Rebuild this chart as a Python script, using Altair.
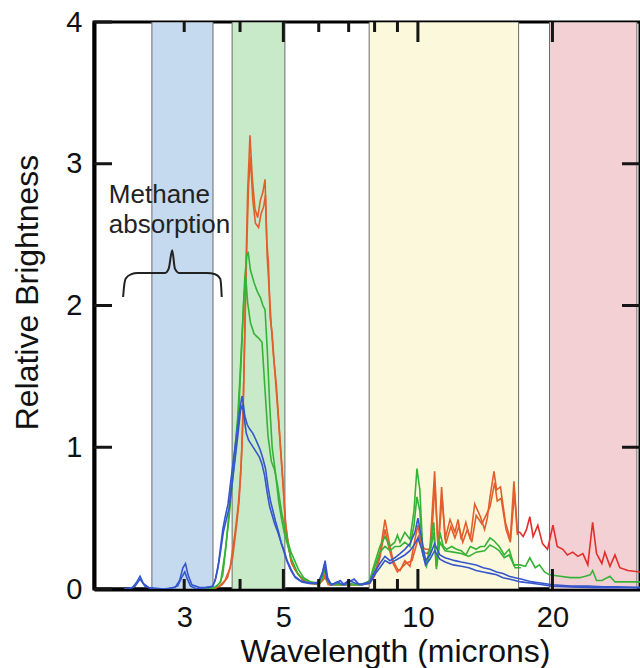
import altair as alt
import pandas as pd

FONT = "Liberation Sans"
PLOT_W = 546
PLOT_H = 567

# ---------------- axes ----------------
x_domain = [1.885, 31.4]
y_domain = [0, 4]
x_tick_labels = [3, 5, 10, 20]
y_tick_labels = [0, 1, 2, 3, 4]
x_minor_ticks = [3, 4, 6, 7, 8, 9]
x_major_ticks = [5, 10, 20]
y_left_ticks = [0, 1, 2, 3, 4]
y_right_ticks = [1, 2, 3]

# ---------------- shaded bands ----------------
band_names = ["b1", "b2", "b3", "b4"]
band_start = [2.54, 3.84, 7.78, 19.7]
band_end = [3.48, 5.04, 16.8, 30.9]
band_colors = ["#c5d9ef", "#c9eac9", "#fbf8dc", "#f3d0d3"]

# ---------------- spectra ----------------
blue_a_wl = [2.20, 2.30, 2.35, 2.39, 2.43, 2.50, 2.70, 2.86, 2.93, 2.98,
             3.02, 3.06, 3.12, 3.25, 3.40, 3.48, 3.53, 3.58, 3.62, 3.66,
             3.70, 3.76, 3.82, 3.88, 3.94, 4.00, 4.04, 4.07, 4.10, 4.15,
             4.20, 4.27, 4.33, 4.40, 4.45, 4.50, 4.56, 4.62, 4.68, 4.74,
             4.80, 4.88, 4.95, 5.02, 5.10, 5.20, 5.30, 5.45, 5.60, 5.80,
             6.00, 6.12, 6.20, 6.28, 6.40, 6.55, 6.70, 6.85, 7.00, 7.20,
             7.40, 7.60, 7.80, 8.00, 8.22, 8.44, 8.66, 8.88, 9.12, 9.35,
             9.60, 9.85, 10.00, 10.20, 10.40, 10.64, 10.90, 11.20, 11.50, 11.80,
             12.10, 12.50, 13.00, 13.50, 14.00, 14.50, 15.00, 15.50, 16.00, 16.50,
             17.00, 18.00, 19.00, 20.00, 22.00, 24.00, 26.00, 28.00, 31.40]
blue_a_val = [0.00, 0.01, 0.05, 0.09, 0.04, 0.01, 0.00, 0.01, 0.06, 0.15,
              0.18, 0.10, 0.03, 0.01, 0.01, 0.02, 0.08, 0.18, 0.30, 0.42,
              0.50, 0.60, 0.78, 0.95, 1.12, 1.28, 1.36, 1.30, 1.22, 1.16,
              1.13, 1.10, 1.06, 1.01, 0.97, 0.92, 0.85, 0.72, 0.62, 0.55,
              0.48, 0.40, 0.32, 0.27, 0.20, 0.14, 0.09, 0.06, 0.05, 0.04,
              0.05, 0.12, 0.20, 0.08, 0.03, 0.04, 0.06, 0.03, 0.05, 0.07,
              0.03, 0.04, 0.05, 0.12, 0.18, 0.23, 0.20, 0.22, 0.25, 0.28,
              0.32, 0.40, 0.50, 0.35, 0.20, 0.24, 0.32, 0.24, 0.22, 0.21,
              0.20, 0.19, 0.18, 0.17, 0.15, 0.14, 0.12, 0.11, 0.09, 0.08,
              0.07, 0.05, 0.04, 0.03, 0.02, 0.02, 0.015, 0.015, 0.01]

blue_b_wl = [2.25, 2.33, 2.39, 2.45, 2.55, 2.75, 2.90, 2.96, 3.01, 3.05,
             3.10, 3.20, 3.35, 3.47, 3.52, 3.57, 3.62, 3.67, 3.72, 3.78,
             3.84, 3.90, 3.96, 4.01, 4.05, 4.09, 4.13, 4.18, 4.24, 4.30,
             4.36, 4.42, 4.48, 4.54, 4.60, 4.66, 4.72, 4.78, 4.86, 4.94,
             5.02, 5.10, 5.20, 5.32, 5.50, 5.70, 5.95, 6.10, 6.18, 6.26,
             6.40, 6.60, 6.80, 7.00, 7.25, 7.50, 7.80, 8.00, 8.22, 8.44,
             8.66, 8.88, 9.12, 9.35, 9.60, 9.85, 10.00, 10.20, 10.40, 10.64,
             10.90, 11.20, 11.50, 12.00, 12.50, 13.00, 13.50, 14.00, 14.50, 15.00,
             15.50, 16.00, 16.50, 17.00, 18.00, 19.00, 20.00, 22.00, 25.00, 28.00,
             31.40]
blue_b_val = [0.00, 0.02, 0.07, 0.02, 0.00, 0.00, 0.02, 0.08, 0.12, 0.07,
              0.02, 0.00, 0.01, 0.02, 0.06, 0.15, 0.27, 0.40, 0.48, 0.57,
              0.74, 0.92, 1.10, 1.26, 1.30, 1.20, 1.10, 1.05, 1.02, 0.99,
              0.96, 0.93, 0.88, 0.80, 0.68, 0.58, 0.52, 0.46, 0.40, 0.33,
              0.26, 0.19, 0.13, 0.08, 0.05, 0.04, 0.04, 0.10, 0.17, 0.07,
              0.03, 0.05, 0.03, 0.06, 0.04, 0.03, 0.04, 0.10, 0.15, 0.20,
              0.18, 0.20, 0.22, 0.24, 0.27, 0.32, 0.36, 0.28, 0.17, 0.21,
              0.27, 0.21, 0.19, 0.17, 0.16, 0.15, 0.13, 0.12, 0.11, 0.10,
              0.08, 0.07, 0.06, 0.05, 0.04, 0.03, 0.02, 0.015, 0.01, 0.01,
              0.01]

green_a_wl = [3.30, 3.50, 3.60, 3.66, 3.72, 3.78, 3.84, 3.90, 3.95, 4.00,
              4.05, 4.10, 4.14, 4.17, 4.22, 4.30, 4.37, 4.45, 4.50, 4.55,
              4.60, 4.66, 4.72, 4.80, 4.88, 4.95, 5.02, 5.10, 5.20, 5.30,
              5.40, 5.55, 5.75, 6.00, 6.12, 6.20, 6.28, 6.40, 6.60, 6.80,
              7.00, 7.30, 7.60, 7.80, 8.00, 8.22, 8.44, 8.66, 8.88, 9.00,
              9.12, 9.35, 9.60, 9.80, 9.95, 10.10, 10.25, 10.45, 10.65, 10.85,
              11.00, 11.20, 11.40, 11.60, 11.90, 12.20, 12.50, 12.80, 13.10, 13.50,
              13.80, 14.10, 14.50, 14.80, 15.20, 15.60, 16.00, 16.40, 16.90, 17.40,
              17.80, 18.30, 18.70, 19.20, 19.70, 20.80, 21.90, 23.00, 23.70, 24.30,
              24.60, 25.10, 25.80, 26.90, 27.60, 28.30, 31.40]
green_a_val = [0.00, 0.01, 0.04, 0.10, 0.30, 0.55, 0.80, 1.00, 1.20, 1.50,
               1.85, 2.20, 2.35, 2.38, 2.25, 2.16, 2.10, 2.05, 2.00, 1.97,
               1.70, 1.30, 1.00, 0.82, 0.62, 0.50, 0.40, 0.32, 0.22, 0.16,
               0.10, 0.07, 0.05, 0.04, 0.10, 0.16, 0.06, 0.03, 0.04, 0.03,
               0.04, 0.03, 0.04, 0.06, 0.18, 0.30, 0.37, 0.30, 0.33, 0.38,
               0.33, 0.40, 0.35, 0.55, 0.85, 0.70, 0.28, 0.18, 0.30, 0.47,
               0.16, 0.40, 0.30, 0.28, 0.30, 0.28, 0.27, 0.24, 0.30, 0.28,
               0.30, 0.30, 0.36, 0.34, 0.30, 0.24, 0.28, 0.17, 0.17, 0.16,
               0.22, 0.15, 0.17, 0.12, 0.10, 0.09, 0.08, 0.08, 0.09, 0.10,
               0.13, 0.06, 0.06, 0.09, 0.05, 0.05, 0.05]

green_b_wl = [3.35, 3.52, 3.62, 3.70, 3.78, 3.85, 3.92, 3.98, 4.04, 4.08,
              4.12, 4.16, 4.22, 4.30, 4.40, 4.48, 4.55, 4.62, 4.70, 4.78,
              4.86, 4.95, 5.02, 5.10, 5.20, 5.30, 5.40, 5.55, 5.75, 6.00,
              6.12, 6.20, 6.28, 6.50, 7.00, 7.50, 7.80, 8.00, 8.22, 8.44,
              8.66, 8.88, 9.12, 9.35, 9.60, 9.80, 9.95, 10.10, 10.25, 10.45,
              10.65, 10.85, 11.00, 11.20, 11.50, 12.00, 12.50, 13.00, 13.50, 14.10,
              14.50, 14.90, 15.20, 15.60, 16.00, 16.50, 17.00]
green_b_val = [0.00, 0.01, 0.05, 0.25, 0.50, 0.78, 1.00, 1.30, 1.75, 2.05,
               2.20, 2.02, 1.88, 1.80, 1.77, 1.74, 1.40, 1.08, 0.90, 0.84,
               0.72, 0.55, 0.45, 0.35, 0.26, 0.20, 0.14, 0.08, 0.05, 0.03,
               0.08, 0.14, 0.05, 0.03, 0.03, 0.03, 0.05, 0.15, 0.26, 0.30,
               0.27, 0.30, 0.30, 0.33, 0.30, 0.45, 0.65, 0.55, 0.25, 0.16,
               0.26, 0.40, 0.14, 0.33, 0.27, 0.26, 0.25, 0.23, 0.26, 0.27,
               0.31, 0.29, 0.27, 0.22, 0.24, 0.15, 0.15]

orange_a_wl = [3.45, 3.60, 3.70, 3.80, 3.90, 3.96, 4.00, 4.04, 4.08, 4.12,
               4.16, 4.21, 4.26, 4.32, 4.38, 4.44, 4.50, 4.55, 4.59, 4.63,
               4.67, 4.72, 4.78, 4.84, 4.90, 4.96, 5.00, 5.04, 5.12, 5.20,
               5.30, 5.45, 5.60, 5.80, 6.00, 6.18, 6.30, 6.60, 7.00, 7.50,
               7.80, 8.00, 8.22, 8.44, 8.60, 8.80, 9.00, 9.12, 9.35, 9.60,
               9.85, 10.00, 10.20, 10.40, 10.64, 10.90, 11.10, 11.30, 11.50, 11.80,
               12.10, 12.30, 12.50, 12.80, 13.10, 13.40, 13.80, 14.10, 14.30, 14.50,
               14.80, 15.00, 15.30, 15.70, 16.10, 16.40, 16.70]
orange_a_val = [0.00, 0.02, 0.06, 0.15, 0.40, 0.58, 0.75, 1.00, 1.50, 2.20,
                2.80, 3.20, 2.90, 2.68, 2.62, 2.74, 2.80, 2.89, 2.46, 2.30,
                1.92, 1.80, 1.55, 1.33, 1.10, 0.86, 0.70, 0.51, 0.32, 0.20,
                0.14, 0.09, 0.05, 0.04, 0.03, 0.10, 0.03, 0.03, 0.03, 0.03,
                0.04, 0.10, 0.25, 0.49, 0.35, 0.20, 0.14, 0.13, 0.20, 0.16,
                0.35, 0.45, 0.30, 0.28, 0.28, 0.83, 0.28, 0.72, 0.35, 0.49,
                0.40, 0.49, 0.35, 0.47, 0.35, 0.60, 0.51, 0.42, 0.50, 0.65,
                0.83, 0.70, 0.72, 0.47, 0.35, 0.76, 0.40]

orange_b_wl = [3.50, 3.65, 3.75, 3.85, 3.93, 3.98, 4.02, 4.06, 4.10, 4.14,
               4.18, 4.22, 4.27, 4.33, 4.40, 4.46, 4.52, 4.56, 4.60, 4.65,
               4.70, 4.75, 4.82, 4.88, 4.94, 5.00, 5.06, 5.14, 5.22, 5.35,
               5.50, 5.70, 6.00, 6.20, 6.35, 6.80, 7.30, 7.80, 8.00, 8.22,
               8.44, 8.60, 8.80, 9.00, 9.20, 9.40, 9.70, 9.90, 10.05, 10.25,
               10.50, 10.70, 10.92, 11.10, 11.32, 11.55, 11.85, 12.10, 12.35, 12.60,
               12.90, 13.20, 13.50, 13.90, 14.20, 14.50, 14.85, 15.05, 15.35, 15.75,
               16.10, 16.45, 16.70]
orange_b_val = [0.00, 0.03, 0.08, 0.22, 0.45, 0.62, 0.85, 1.20, 1.80, 2.40,
                2.85, 3.05, 2.75, 2.58, 2.55, 2.65, 2.70, 2.78, 2.35, 2.10,
                1.85, 1.65, 1.45, 1.20, 0.95, 0.72, 0.45, 0.30, 0.18, 0.12,
                0.07, 0.04, 0.03, 0.08, 0.03, 0.03, 0.03, 0.04, 0.09, 0.22,
                0.42, 0.30, 0.18, 0.12, 0.15, 0.18, 0.20, 0.30, 0.38, 0.26,
                0.25, 0.30, 0.74, 0.26, 0.65, 0.32, 0.44, 0.36, 0.44, 0.33,
                0.42, 0.33, 0.52, 0.46, 0.52, 0.58, 0.75, 0.62, 0.64, 0.42,
                0.33, 0.68, 0.38]

red_wl = [16.70, 16.90, 17.20, 17.50, 17.80, 18.10, 18.55, 19.00, 19.50, 20.05,
          20.50, 21.10, 21.60, 22.20, 22.80, 23.40, 24.00, 24.60, 25.10, 25.80,
          26.20, 26.90, 27.60, 28.30, 29.50, 31.40]
red_val = [0.40, 0.40, 0.37, 0.42, 0.51, 0.37, 0.45, 0.32, 0.28, 0.45,
           0.30, 0.28, 0.24, 0.26, 0.23, 0.25, 0.17, 0.47, 0.25, 0.18,
           0.26, 0.16, 0.24, 0.15, 0.13, 0.12]

# drawing order and colours
series = [
    ("orange_a", orange_a_wl, orange_a_val, "#e25f2c"),
    ("orange_b", orange_b_wl, orange_b_val, "#e25f2c"),
    ("green_a", green_a_wl, green_a_val, "#36b336"),
    ("green_b", green_b_wl, green_b_val, "#36b336"),
    ("blue_a", blue_a_wl, blue_a_val, "#3656cc"),
    ("blue_b", blue_b_wl, blue_b_val, "#3656cc"),
    ("red", red_wl, red_val, "#e32d2d"),
]

# ---------------- annotation ----------------
annot_text = ["Methane", "absorption"]
annot_wl = [2.035, 2.035]
annot_val = [2.72, 2.51]
brace_wl = [2.19, 2.20, 2.22, 2.28, 2.36, 2.72, 2.77, 2.82, 2.86, 2.92, 3.37, 3.52, 3.61, 3.63, 3.64]
brace_val = [2.06, 2.13, 2.19, 2.22, 2.23, 2.23, 2.26, 2.39, 2.26, 2.23, 2.23, 2.22, 2.19, 2.13, 2.06]

# ---------------- chart ----------------
x_scale = alt.Scale(type="log", domain=x_domain, nice=False)
y_scale = alt.Scale(domain=y_domain, nice=False)

x_axis = alt.Axis(values=x_tick_labels, format="d", ticks=False, tickSize=0, grid=False,
                  domain=True, domainColor="#000", domainWidth=4,
                  labelFont=FONT, labelFontSize=29, labelColor="#111", labelPadding=14,
                  labelFlush=False, labelOverlap=False,
                  title="Wavelength (microns)", titleFont=FONT, titleFontSize=32,
                  titleFontWeight="normal", titleColor="#111",
                  titleX=301, titleY=72, titleAlign="center", titleBaseline="alphabetic")
y_axis = alt.Axis(values=y_tick_labels, format="d", ticks=False, tickSize=0, grid=False,
                  domain=True, domainColor="#000", domainWidth=4,
                  labelFont=FONT, labelFontSize=29, labelColor="#111", labelPadding=12,
                  title="Relative Brightness", titleFont=FONT, titleFontSize=32,
                  titleFontWeight="normal", titleColor="#111", titleAngle=270,
                  titleX=-57, titleY=270, titleAlign="center", titleBaseline="alphabetic")


def X(field):
    return alt.X(field, scale=x_scale, axis=x_axis)


def Y(field):
    return alt.Y(field, scale=y_scale, axis=y_axis)


bands_df = pd.DataFrame({"band": band_names, "start": band_start, "end": band_end})
bands = alt.Chart(bands_df).mark_rect(stroke="#6b6b6b", strokeWidth=1, clip=True).encode(
    x=X("start:Q"),
    x2="end:Q",
    y=alt.value(0),
    y2=alt.value(PLOT_H),
    color=alt.Color("band:N", scale=alt.Scale(domain=band_names, range=band_colors), legend=None),
)

layers = [bands]
for name, wl, val, col in series:
    df = pd.DataFrame({"wl": wl, "val": val})
    df["i"] = range(len(df))
    lyr = alt.Chart(df).mark_line(color=col, strokeWidth=1.6, clip=True).encode(
        x=X("wl:Q"),
        y=Y("val:Q"),
        order="i:Q",
    )
    layers.append(lyr)

brace_df = pd.DataFrame({"wl": brace_wl, "val": brace_val})
brace_df["i"] = range(len(brace_df))
brace = alt.Chart(brace_df).mark_line(color="#222", strokeWidth=2, interpolate="monotone").encode(
    x=X("wl:Q"),
    y=Y("val:Q"),
    order="i:Q",
)
annot_df = pd.DataFrame({"label": annot_text, "wl": annot_wl, "val": annot_val})
annot = alt.Chart(annot_df).mark_text(font=FONT, fontSize=26, color="#222", align="left",
                                      baseline="alphabetic").encode(
    x=X("wl:Q"),
    y=Y("val:Q"),
    text="label:N",
)
layers += [brace, annot]

tick_color = "#151515"
minor_df = pd.DataFrame({"t": x_minor_ticks})
major_df = pd.DataFrame({"t": x_major_ticks})
for df, ln in ((minor_df, 10), (major_df, 20)):
    for y0, y1 in ((0, ln), (PLOT_H, PLOT_H - ln)):
        layers.append(alt.Chart(df).mark_rule(color=tick_color, strokeWidth=3).encode(
            x=X("t:Q"),
            y=alt.value(y0), y2=alt.value(y1)))
left_df = pd.DataFrame({"t": y_left_ticks})
right_df = pd.DataFrame({"t": y_right_ticks})
layers.append(alt.Chart(left_df).mark_rule(color=tick_color, strokeWidth=3).encode(
    y=Y("t:Q"), x=alt.value(0), x2=alt.value(18)))
layers.append(alt.Chart(right_df).mark_rule(color=tick_color, strokeWidth=3).encode(
    y=Y("t:Q"), x=alt.value(PLOT_W), x2=alt.value(PLOT_W - 18)))

chart = alt.layer(*layers).properties(
    width=PLOT_W, height=PLOT_H,
    padding={"left": 94, "top": 22, "right": 0, "bottom": 79},
    autosize=alt.AutoSizeParams(type="none"),
    background="white",
).configure_view(stroke="#000", strokeWidth=3)

chart.save("out.html", embed_options={"renderer": "svg", "actions": False})
